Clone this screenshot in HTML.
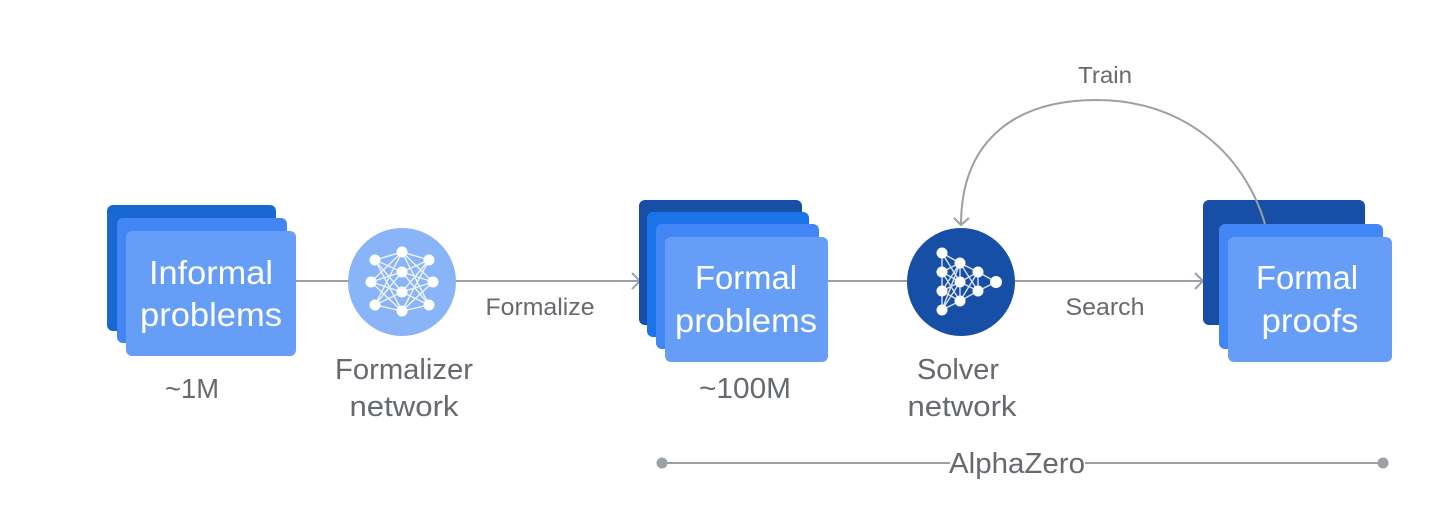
<!DOCTYPE html>
<html><head><meta charset="utf-8"><style>
html,body{margin:0;padding:0;background:#fff;width:1456px;height:512px;overflow:hidden}
svg{display:block}
text{font-family:"Liberation Sans",sans-serif}
.w{fill:#fff;font-size:33.5px;text-anchor:middle}
.g{fill:#66696e;text-anchor:middle}
</style></head><body>
<svg width="1456" height="512" viewBox="0 0 1456 512" xmlns="http://www.w3.org/2000/svg">
<g fill="none" stroke="#9aa0a6" stroke-width="2">
<path d="M296 281H349M456 281H640M828 281H907M1015 281H1204"/>
<path d="M632 273L640 281L632 289M1195 273L1203 281L1195 289"/>
<path d="M662 463H950M1085 463H1383"/>
</g>
<circle cx="662" cy="463" r="5.5" fill="#9aa0a6"/><circle cx="1383" cy="463" r="5.5" fill="#9aa0a6"/>

<rect x="107" y="205" width="169" height="126" rx="6" fill="#1967d2"/>
<rect x="117" y="218" width="170" height="125" rx="6" fill="#4285f4"/>
<rect x="126" y="231" width="170" height="125" rx="6" fill="#669df6"/>
<text class="w" x="211" y="284" textLength="124" lengthAdjust="spacingAndGlyphs">Informal</text>
<text class="w" x="211" y="326" textLength="142" lengthAdjust="spacingAndGlyphs">problems</text>

<rect x="639" y="200" width="163" height="125" rx="6" fill="#174ea6"/>
<rect x="647" y="212" width="162" height="125" rx="6" fill="#1a73e8"/>
<rect x="656" y="224" width="163" height="125" rx="6" fill="#4285f4"/>
<rect x="665" y="237" width="163" height="125" rx="6" fill="#669df6"/>
<text class="w" x="746" y="289" textLength="102" lengthAdjust="spacingAndGlyphs">Formal</text>
<text class="w" x="746" y="332" textLength="142" lengthAdjust="spacingAndGlyphs">problems</text>

<rect x="1203" y="200" width="162" height="125" rx="6" fill="#174ea6"/>
<path d="M1265 224C1243 150 1180 100 1097 100C1010 100 961 145 961 225" fill="none" stroke="#9aa0a6" stroke-width="2"/>
<path d="M954 218L961 225L969 218" fill="none" stroke="#9aa0a6" stroke-width="2"/>
<rect x="1219" y="224" width="164" height="125" rx="6" fill="#4285f4"/>
<rect x="1228" y="237" width="164" height="125" rx="6" fill="#669df6"/>
<text class="w" x="1307" y="289" textLength="102" lengthAdjust="spacingAndGlyphs">Formal</text>
<text class="w" x="1310" y="332" textLength="97" lengthAdjust="spacingAndGlyphs">proofs</text>

<circle cx="402" cy="282" r="54" fill="#8ab4f8"/>
<g fill="none" stroke="#fff" stroke-width="1.4" opacity="0.85">
<path d="M375 260L402 252L429 260M375 260L402 272L429 260M375 260L402 292L429 260M375 260L402 311L429 260M371 282L402 252L433 282M371 282L402 272L433 282M371 282L402 292L433 282M371 282L402 311L433 282M375 305L402 252L429 305M375 305L402 272L429 305M375 305L402 292L429 305M375 305L402 311L429 305"/>
</g>
<g fill="#fff"><circle cx="375" cy="260" r="5.5"/><circle cx="371" cy="282" r="5.5"/><circle cx="375" cy="305" r="5.5"/><circle cx="402" cy="252" r="5.5"/><circle cx="402" cy="272" r="5.5"/><circle cx="402" cy="292" r="5.5"/><circle cx="402" cy="311" r="5.5"/><circle cx="429" cy="260" r="5.5"/><circle cx="433" cy="282" r="5.5"/><circle cx="429" cy="305" r="5.5"/></g>

<circle cx="961" cy="282" r="54" fill="#174ea6"/>
<g fill="none" stroke="#fff" stroke-width="1.4" opacity="0.85">
<path d="M942 253V310M942 253L960 263L978 272M942 253L960 282L978 291M942 272L960 263M942 272L960 282L978 291M942 272L960 301M942 291L960 263M942 291L960 282L978 272M942 291L960 301M942 310L960 263M942 310L960 282M942 310L960 301L978 291M960 263L978 291M960 263V301M960 301L978 272M978 272V291M978 272L996 282L978 291"/>
</g>
<g fill="#fff"><circle cx="942" cy="253" r="5.5"/><circle cx="942" cy="272" r="5.5"/><circle cx="942" cy="291" r="5.5"/><circle cx="942" cy="310" r="5.5"/><circle cx="960" cy="263" r="5.5"/><circle cx="960" cy="282" r="5.5"/><circle cx="960" cy="301" r="5.5"/><circle cx="978" cy="272" r="5.5"/><circle cx="978" cy="291" r="5.5"/><circle cx="996" cy="282" r="6"/></g>

<text class="g" font-size="27.5" x="192" y="398" textLength="54" lengthAdjust="spacingAndGlyphs">~1M</text>
<text class="g" font-size="28.5" x="404" y="379" textLength="138" lengthAdjust="spacingAndGlyphs">Formalizer</text>
<text class="g" font-size="28.5" x="404" y="416" textLength="109" lengthAdjust="spacingAndGlyphs">network</text>
<text class="g" font-size="24.5" x="540" y="315" textLength="109" lengthAdjust="spacingAndGlyphs">Formalize</text>
<text class="g" font-size="28.5" x="745" y="398" textLength="92" lengthAdjust="spacingAndGlyphs">~100M</text>
<text class="g" font-size="28.5" x="958" y="379" textLength="82" lengthAdjust="spacingAndGlyphs">Solver</text>
<text class="g" font-size="28.5" x="962" y="416" textLength="109" lengthAdjust="spacingAndGlyphs">network</text>
<text class="g" font-size="24.5" x="1105" y="315" textLength="79" lengthAdjust="spacingAndGlyphs">Search</text>
<text class="g" font-size="23.5" x="1105" y="83" textLength="54" lengthAdjust="spacingAndGlyphs">Train</text>
<text class="g" font-size="29" x="1017" y="473" textLength="136" lengthAdjust="spacingAndGlyphs">AlphaZero</text>
</svg>
</body></html>
